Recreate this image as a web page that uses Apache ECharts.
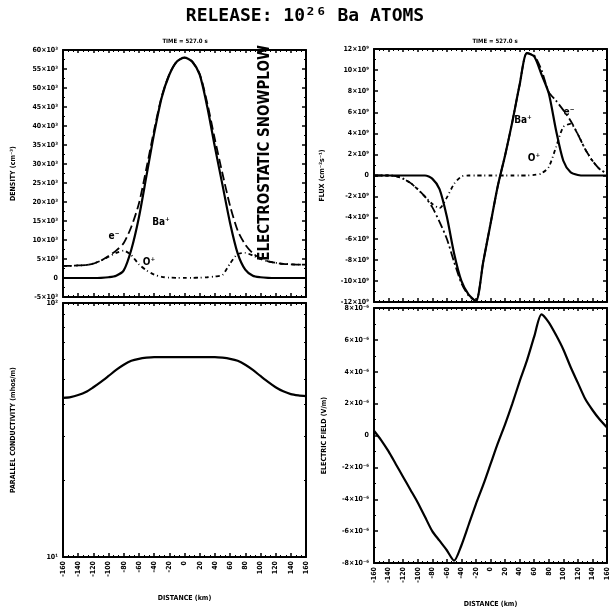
<!DOCTYPE html>
<html>
<head>
<meta charset="utf-8">
<script src="https://cdn.jsdelivr.net/npm/echarts@6/dist/echarts.min.js"></script>
<style>
  html, body { margin: 0; padding: 0; background: #fff; }
  #chart { width: 615px; height: 612px; }
</style>
</head>
<body>
<div id="chart"></div>
<script>
// distance along the field line (km)
const distance = [-160, -150, -140, -130, -120, -110, -100, -90, -80, -70, -60, -50, -40, -30, -20, -10,
  0, 10, 20, 30, 40, 50, 60, 70, 80, 90, 100, 110, 120, 130, 140, 150, 160];

// density, 10^3 cm^-3
const densBa = [0, 0, 0, 0, 0, 0.05, 0.2, 0.6, 2.0, 7.5, 16, 27, 38, 47.5, 53.5, 57,
  58, 57, 53.5, 45, 34.5, 24.5, 14.5, 6.5, 2.2, 0.6, 0.2, 0.05, 0, 0, 0, 0, 0];
const densE = [3.2, 3.2, 3.3, 3.4, 3.8, 4.6, 5.8, 7.2, 9.2, 13.5, 19.6, 29, 38.9, 47.8, 53.6, 57,
  58, 57, 53.7, 46, 36.5, 27.5, 19, 12.5, 8.8, 6.5, 5.2, 4.4, 4.0, 3.7, 3.6, 3.5, 3.5];
const densO = [3.2, 3.2, 3.3, 3.4, 3.8, 4.55, 5.6, 6.6, 7.2, 6.0, 3.6, 2.0, 0.9, 0.3, 0.1, 0.05,
  0.05, 0.05, 0.1, 0.2, 0.4, 0.8, 3.8, 6.3, 6.6, 5.9, 5.0, 4.35, 4.0, 3.7, 3.6, 3.5, 3.5];

// flux, 10^9 cm^-2 s^-1
const fluxBa = [0, 0, 0, 0, 0, 0, 0, 0, -0.3, -1.3, -3.9, -7.4, -10.0, -11.3, -11.9, -8.2,
  -4.6, -1.0, 1.9, 5.1, 8.6, 11.6, 11.3, 9.6, 7.8, 4.3, 1.4, 0.3, 0.05, 0, 0, 0, 0];
const fluxE = [0, 0, 0, -0.05, -0.3, -0.7, -1.3, -2.0, -3.0, -4.4, -6.0, -8.2, -10.2, -11.4, -11.9, -8.2,
  -4.6, -1.0, 1.9, 5.1, 8.6, 11.6, 11.4, 10.0, 7.9, 7.1, 6.2, 5.2, 3.9, 2.5, 1.4, 0.6, 0.2];
const fluxO = [0, 0, 0, -0.05, -0.3, -0.7, -1.3, -2.0, -2.7, -3.1, -2.1, -0.8, -0.1, 0, 0, 0,
  0, 0, 0, 0, 0, 0, 0.05, 0.2, 0.8, 2.7, 4.6, 4.9, 3.9, 2.5, 1.4, 0.6, 0.2];

// parallel conductivity, mhos/m
const conductivity = [42.3, 42.6, 43.4, 44.6, 46.6, 48.9, 51.6, 54.5, 57.1, 59.2, 60.3, 60.9, 61.2, 61.2, 61.2, 61.2,
  61.2, 61.2, 61.2, 61.2, 61.2, 60.9, 60.3, 59.2, 57.1, 54.5, 51.6, 48.9, 46.6, 44.9, 43.8, 43.3, 43.0];

// electric field, 10^-6 V/m
const efield = [0.3, -0.3, -1.0, -1.8, -2.6, -3.4, -4.2, -5.1, -6.0, -6.6, -7.2, -7.85, -6.9, -5.6, -4.3, -3.1,
  -1.8, -0.5, 0.7, 2.0, 3.4, 4.7, 6.2, 7.6, 7.1, 6.3, 5.4, 4.3, 3.3, 2.3, 1.6, 1.0, 0.5];

const FONT = '"DejaVu Sans Condensed", "DejaVu Sans", sans-serif';
const BLACK = '#000';

function pairs(ys) {
  return distance.map((d, i) => [d, ys[i]]);
}

const grids = [
  { left: 63, top: 50, width: 243, height: 247 },   // density
  { left: 374, top: 49, width: 233, height: 253 },  // flux
  { left: 63, top: 303, width: 243, height: 254 },  // conductivity
  { left: 374, top: 308, width: 233, height: 255 }  // electric field
];

const lineAxis = { show: true, onZero: false, lineStyle: { color: BLACK, width: 2 } };

// bottom axis (labels only on the lower panels) + top axis with ticks
function xPair(g, labelled) {
  const bottom = {
    type: 'value', gridIndex: g, position: 'bottom', min: -160, max: 160, interval: 20,
    axisLine: lineAxis,
    axisTick: { inside: true, length: 4, lineStyle: { color: BLACK, width: 1.5 } },
    minorTick: { show: true, splitNumber: 3, length: 2, lineStyle: { color: BLACK } },
    splitLine: { show: false },
    axisLabel: { show: labelled, rotate: 90, fontSize: 7, fontWeight: 'bold', color: BLACK, fontFamily: FONT, margin: 4 }
  };
  if (labelled) {
    bottom.name = 'DISTANCE (km)';
    bottom.nameLocation = 'middle';
    bottom.nameGap = 38;
    bottom.nameTextStyle = { fontSize: 7, fontWeight: 'bold', color: BLACK, fontFamily: FONT };
  }
  return [bottom, {
    type: 'value', gridIndex: g, position: 'top', min: -160, max: 160, interval: 20,
    axisLine: lineAxis,
    axisTick: { inside: true, length: 3, lineStyle: { color: BLACK, width: 1.5 } },
    minorTick: { show: true, splitNumber: 3, length: 2, lineStyle: { color: BLACK } },
    splitLine: { show: false }, axisLabel: { show: false }
  }];
}

function yPair(g, opts) {
  const base = {
    gridIndex: g, axisLine: lineAxis, splitLine: { show: false },
    axisTick: { inside: true, length: 4, lineStyle: { color: BLACK, width: 1.5 } }
  };
  const left = Object.assign({}, base, opts, {
    position: 'left',
    axisLabel: { fontSize: 7, fontWeight: 'bold', color: BLACK, fontFamily: FONT, margin: 5, formatter: opts.fmt },
    nameLocation: 'middle', nameRotate: 90,
    nameTextStyle: { fontSize: 7, fontWeight: 'bold', color: BLACK, fontFamily: FONT }
  });
  delete left.fmt;
  const right = Object.assign({}, base, opts, { position: 'right', axisLabel: { show: false }, name: '' });
  delete right.fmt;
  return [left, right];
}

const sup = { '-': '⁻', '0': '⁰', '1': '¹', '2': '²', '3': '³', '6': '⁶', '9': '⁹' };
function expLabel(exp) {
  const s = String(exp).split('').map(c => sup[c]).join('');
  return v => {
    const r = Math.round(v * 100) / 100;
    return r === 0 ? '0' : r + '×10' + s;
  };
}

const xAxis = [].concat(xPair(0, false), xPair(1, false), xPair(2, true), xPair(3, true));
const yAxis = [].concat(
  yPair(0, { type: 'value', min: -5, max: 60, interval: 5, fmt: expLabel(3),
    name: 'DENSITY (cm⁻³)', nameGap: 46,
    minorTick: { show: true, splitNumber: 2, length: 2, lineStyle: { color: BLACK } } }),
  yPair(1, { type: 'value', min: -12, max: 12, interval: 2, fmt: expLabel(9),
    name: 'FLUX (cm⁻²s⁻¹)', nameGap: 48,
    minorTick: { show: true, splitNumber: 2, length: 2, lineStyle: { color: BLACK } } }),
  yPair(2, { type: 'log', logBase: 10, min: 10, max: 100,
    fmt: v => (v >= 99 ? '10²' : '10¹'),
    name: 'PARALLEL CONDUCTIVITY (mhos/m)', nameGap: 46,
    minorTick: { show: true, splitNumber: 9, length: 2, lineStyle: { color: BLACK } } }),
  yPair(3, { type: 'value', min: -8, max: 8, interval: 2, fmt: expLabel(-6),
    name: 'ELECTRIC FIELD (V/m)', nameGap: 46,
    minorTick: { show: true, splitNumber: 2, length: 2, lineStyle: { color: BLACK } } })
);

function line(g, ys, dash, width) {
  return {
    type: 'line', xAxisIndex: 2 * g, yAxisIndex: 2 * g, data: pairs(ys),
    showSymbol: false, smooth: 0.25, silent: true,
    lineStyle: { color: BLACK, width: width || 2, type: dash || 'solid' }
  };
}

const series = [
  line(0, densO, [4, 3, 1, 3], 1.8),
  line(0, densE, [9, 4], 1.8),
  line(0, densBa, 'solid', 2.2),
  line(1, fluxO, [4, 3, 1, 3], 1.8),
  line(1, fluxE, [9, 3, 2, 3], 1.8),
  line(1, fluxBa, 'solid', 2.2),
  line(2, conductivity, 'solid', 2.2),
  line(3, efield, 'solid', 2.2)
];

function txt(x, y, text, size, extra) {
  return Object.assign({
    type: 'text', x: x, y: y,
    style: { text: text, fill: BLACK, font: 'bold ' + size + 'px ' + FONT, textAlign: 'center', textVerticalAlign: 'middle' }
  }, extra || {});
}

const graphic = [
  txt(305, 16, 'RELEASE: 10²⁶ Ba ATOMS', 18, { style: { text: 'RELEASE: 10²⁶ Ba ATOMS', fill: BLACK,
    font: 'bold 18px "DejaVu Sans Mono", monospace', textAlign: 'center', textVerticalAlign: 'middle' } }),
  txt(185, 41, 'TIME = 527.0 s', 6),
  txt(495, 41, 'TIME = 527.0 s', 6),
  txt(265, 153, 'ELECTROSTATIC SNOWPLOW', 15, { rotation: Math.PI / 2 }),
  txt(161, 222, 'Ba⁺', 10),
  txt(114, 236, 'e⁻', 10),
  txt(149, 262, 'O⁺', 10),
  txt(523, 120, 'Ba⁺', 10),
  txt(569, 112, 'e⁻', 10),
  txt(534, 158, 'O⁺', 10)
];

const chart = echarts.init(document.getElementById('chart'), null, { renderer: 'canvas' });
chart.setOption({
  animation: false,
  backgroundColor: '#fff',
  grid: grids,
  xAxis: xAxis,
  yAxis: yAxis,
  series: series,
  graphic: graphic
});
</script>
</body>
</html>
